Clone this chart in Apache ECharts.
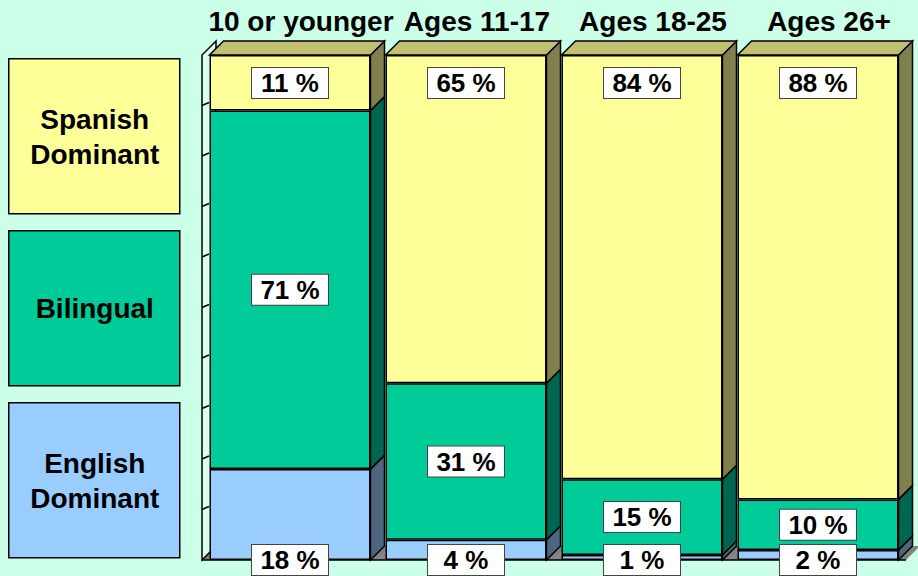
<!DOCTYPE html>
<html>
<head>
<meta charset="utf-8">
<title>Language dominance by age</title>
<script src="https://cdn.jsdelivr.net/npm/echarts@6/dist/echarts.min.js"></script>
<style>
  html, body { margin: 0; padding: 0; background: #ccffe8; }
  #main { width: 918px; height: 576px; }
</style>
</head>
<body>
<div id="main"></div>
<script>
const categories = ['10 or younger', 'Ages 11-17', 'Ages 18-25', 'Ages 26+']
const seriesNames = ['English Dominant', 'Bilingual', 'Spanish Dominant']
const legendLabels = ['English\nDominant', 'Bilingual', 'Spanish\nDominant']
const englishValues = [18, 4, 1, 2]
const bilingualValues = [71, 31, 15, 10]
const spanishValues = [11, 65, 84, 88]
const wallTicks = [10, 20, 30, 40, 50, 60, 70, 80, 90]

const FONT = '"Liberation Sans", Arial, sans-serif'
const frontColors = ['#99ccff', '#00cc99', '#ffff99']
const sideColors = ['#4d6680', '#006650', '#80804d']
const topColor = '#c0c073'
const BAR_W = 161
const DEPTH = 14

const chart = echarts.init(document.getElementById('main'), null, { renderer: 'svg' })

// side faces, top faces, floor and left wall drawn behind the fronts
function renderDepth (params, api) {
  const i = api.value(0)
  const layers = [api.value(1), api.value(2), api.value(3)]
  const base = api.coord([i, 0])
  const band = api.size([1, 0])[0]
  const x0 = base[0] - BAR_W / 2
  const x1 = base[0] + BAR_W / 2
  const bx0 = base[0] - band / 2
  const bx1 = base[0] + band / 2
  const y0 = base[1]
  const children = []

  children.push({
    type: 'polygon',
    shape: { points: [[bx0, y0], [bx0 + DEPTH, y0 - DEPTH], [bx1 + DEPTH, y0 - DEPTH], [bx1, y0]] },
    style: { fill: '#808080' }
  })
  children.push({
    type: 'line',
    shape: { x1: bx0, y1: y0, x2: bx1, y2: y0 },
    style: { stroke: '#000', lineWidth: 1.5 }
  })

  if (i === 0) {
    const yTop = api.coord([0, 100])[1]
    children.push({
      type: 'polygon',
      shape: { points: [[bx0, y0], [bx0, yTop], [bx0 + DEPTH, yTop - DEPTH], [bx0 + DEPTH, y0 - DEPTH]] },
      style: { fill: '#d9fff0', stroke: '#000', lineWidth: 1.5 }
    })
    wallTicks.forEach(t => {
      const y = api.coord([0, t])[1]
      children.push({
        type: 'line',
        shape: { x1: bx0, y1: y, x2: bx0 + 7, y2: y - 3 },
        style: { stroke: '#000', lineWidth: 1.5 }
      })
    })
  }

  let cum = 0
  layers.forEach((v, k) => {
    const yA = api.coord([i, cum])[1]
    cum += v
    const yB = api.coord([i, cum])[1]
    children.push({
      type: 'polygon',
      shape: { points: [[x1, yA], [x1 + DEPTH, yA - DEPTH], [x1 + DEPTH, yB - DEPTH], [x1, yB]] },
      style: { fill: sideColors[k], stroke: '#000', lineWidth: 1.5 }
    })
  })
  const yT = api.coord([i, cum])[1]
  children.push({
    type: 'polygon',
    shape: { points: [[x0, yT], [x0 + DEPTH, yT - DEPTH], [x1 + DEPTH, yT - DEPTH], [x1, yT]] },
    style: { fill: topColor, stroke: '#000', lineWidth: 1.5 }
  })

  return { type: 'group', children: children }
}

const labelBox = {
  show: true,
  formatter: '{c} %',
  color: '#000',
  fontFamily: FONT,
  fontWeight: 'bold',
  fontSize: 26,
  backgroundColor: '#fff',
  borderColor: '#444',
  borderWidth: 1,
  width: 76,
  height: 30,
  lineHeight: 30,
  align: 'center',
  verticalAlign: 'middle'
}

const valueSets = [englishValues, bilingualValues, spanishValues]
const labelPos = [
  { position: ['50%', '100%'] },
  { position: 'inside' },
  { position: 'insideTop', distance: 13, verticalAlign: 'top' }
]

const barSeries = valueSets.map((vals, k) => ({
  name: seriesNames[k],
  type: 'bar',
  stack: 'total',
  z: 3,
  barWidth: BAR_W,
  data: vals,
  itemStyle: { color: frontColors[k], borderColor: '#000', borderWidth: 1.5 },
  label: Object.assign({}, labelBox, labelPos[k]),
  emphasis: { disabled: true }
}))

const legendTops = [402, 230, 58]
const legendGraphics = legendLabels.map((txt, k) => ({
  type: 'group',
  left: 8,
  top: legendTops[k],
  children: [
    {
      type: 'rect',
      shape: { x: 0, y: 0, width: 171, height: 155 },
      style: { fill: frontColors[k], stroke: '#000', lineWidth: 1.5 }
    },
    {
      type: 'text',
      x: 86,
      y: 78,
      style: {
        text: txt,
        fill: '#000',
        font: 'bold 28px ' + FONT,
        align: 'center',
        verticalAlign: 'middle',
        lineHeight: 35
      }
    }
  ]
}))

const option = {
  backgroundColor: '#ccffe8',
  animation: false,
  grid: { left: 202, right: 12, top: 55, bottom: 16 },
  xAxis: {
    type: 'category',
    position: 'top',
    data: categories,
    axisLine: { show: false },
    axisTick: { show: false },
    axisLabel: {
      interval: 0,
      hideOverlap: false,
      color: '#000',
      fontFamily: FONT,
      fontWeight: 'bold',
      fontSize: 28,
      margin: 20,
      padding: [0, 0, 0, 22]
    }
  },
  yAxis: {
    type: 'value',
    min: 0,
    max: 100,
    show: false
  },
  graphic: legendGraphics,
  series: [
    {
      type: 'custom',
      z: 1,
      silent: true,
      renderItem: renderDepth,
      data: categories.map((c, i) => [i, englishValues[i], bilingualValues[i], spanishValues[i]])
    }
  ].concat(barSeries)
}

chart.setOption(option)
</script>
</body>
</html>
